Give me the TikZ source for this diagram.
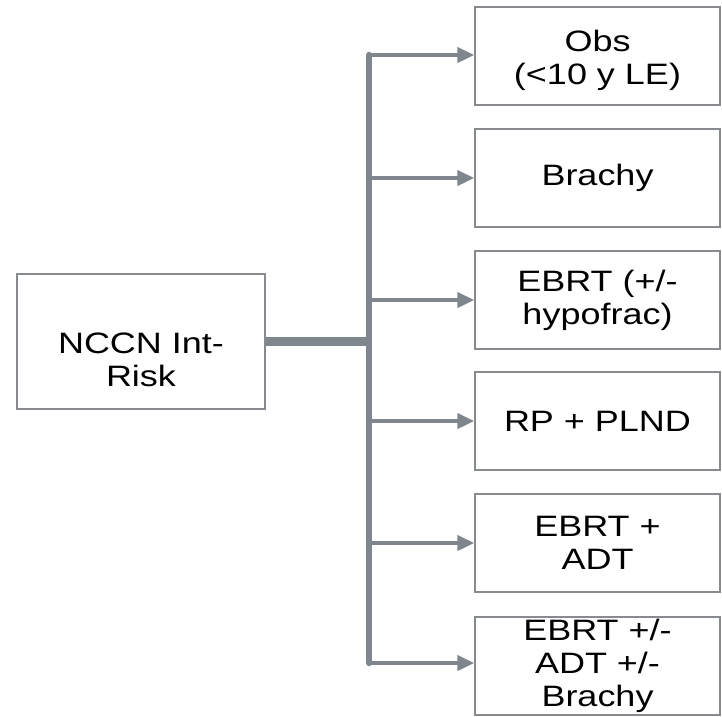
\documentclass[tikz,border=0pt]{standalone}
\usepackage{fontspec}
\setmainfont{Liberation Sans}[FakeStretch=1.22]
\usepackage{xcolor}
\usepackage{tikz}
\usetikzlibrary{arrows.meta,positioning,calc}
\definecolor{linegray}{RGB}{128,134,141}
\definecolor{boxgray}{RGB}{135,138,142}

\begin{document}
\begin{tikzpicture}[
  x=1pt, y=-1pt,
  font=\fontsize{29.5}{33}\selectfont,
  blk/.style={draw=boxgray, line width=1.4pt, fill=white, align=center,
              minimum width=245pt, minimum height=98pt, inner sep=2pt},
  lbl/.style={align=center, inner sep=0pt},
  trunk/.style={draw=linegray, line width=7pt},
  branch/.style={draw=linegray, line width=4.5pt,
                 -{Triangle[length=17pt, width=15pt]}}
]
\useasboundingbox (0,0) rectangle (722,716);

% ---- Source ----
\node[blk, minimum width=248pt, minimum height=135pt,
      label={[lbl, yshift=-18pt]center:NCCN Int-\\Risk}] (risk) at (141,341.5) {};

% ---- Options ----
\node[blk] (obs)     at (597.5,56)  {\rule{0pt}{30pt}Obs\\(<10 y LE)};
\node[blk] (brachy)  at (597.5,178) {Brachy};
\node[blk] (ebrt)    at (597.5,300) {EBRT (+/-\\hypofrac)};
\node[blk] (rp)      at (597.5,421) {RP + PLND};
\node[blk] (ebrtadt) at (597.5,543) {EBRT +\\ADT};
\node[blk] (combo)   at (597.5,666) {EBRT +/-\\ADT +/-\\Brachy};

% ---- Wiring ----
\coordinate (jn) at (369,341);
\draw[trunk, line width=9pt] (risk.east |- jn) -- (jn);
\draw[trunk, line width=6.5pt, line cap=round] ($(jn |- obs.west)+(0,-1)$)
  -- ($(jn |- combo.west)+(0,-3)$);
\draw[branch] ($(jn |- obs.west)+(0,-1)$) -- ($(obs.west)+(0,-1)$);
\draw[branch] (jn |- brachy.west) -- (brachy.west);
\draw[branch] (jn |- ebrt.west) -- (ebrt.west);
\draw[branch] (jn |- rp.west) -- (rp.west);
\draw[branch] (jn |- ebrtadt.west) -- (ebrtadt.west);
\draw[branch] ($(jn |- combo.west)+(0,-3)$) -- ($(combo.west)+(0,-3)$);
\end{tikzpicture}
\end{document}
